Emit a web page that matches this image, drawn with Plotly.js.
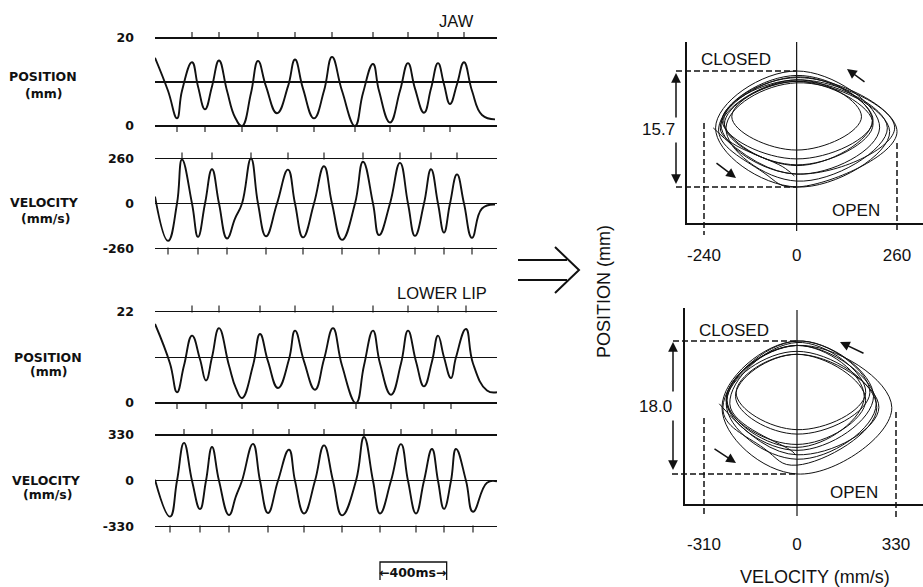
<!DOCTYPE html>
<html><head><meta charset="utf-8">
<script src="https://cdn.plot.ly/plotly-3.0.1.min.js"></script>
<style>html,body{margin:0;padding:0;background:#fff}#chart{width:923px;height:587px}</style>
</head><body><div id="chart"></div>
<script>
// ---------------- DATA ----------------
// time in ms, jaw signals
const jawTime = [0,78,132,162,222,258,300,342,384,432,480,522,576,618,666,732,798,840,888,954,1014,1062,1122,1200,1248,1308,1344,1410,1470,1518,1560,1614,1656,1698,1734,1770,1812,1854,1902,1962,2040];
const jawPos  = [15.5,8.0,1.75,8.0,14.5,9.0,3.8,9.0,14.9,8.0,2.0,0.0,7.5,14.8,9.0,2.9,9.0,15.1,8.5,1.75,8.0,15.7,8.0,0.0,7.5,14.1,8.0,0.8,8.0,14.3,8.5,3.0,8.5,14.3,9.5,5.0,9.5,14.5,8.0,2.5,1.5];
const jawVel  = [40,-216,0,254,0,-193,0,198,0,-202,-87,0,260,0,-189,0,196,0,-196,0,215,0,-210,0,241,0,-183,0,235,0,-187,0,198,0,-168,0,168,0,-198,-29,-6];
// lower lip signals
const lipTime = [0,90,132,174,222,270,306,342,384,444,486,522,588,630,678,738,804,840,894,960,1014,1068,1122,1206,1254,1308,1350,1416,1476,1518,1566,1614,1662,1698,1734,1776,1806,1866,1908,1992,2052];
const lipPos  = [19.0,9.5,2.6,9.0,16.2,10.5,5.4,11.0,18.0,9.0,3.5,1.2,9.0,16.6,10.0,3.6,10.5,17.4,10.0,3.2,10.5,18.0,9.0,0.0,9.0,17.4,9.5,2.0,9.5,17.4,10.0,4.0,10.0,16.2,11.0,6.0,11.0,17.8,9.5,3.0,2.6];
const lipVel  = [7,-259,0,273,0,-205,0,243,0,-247,-111,0,266,0,-233,0,224,0,-236,0,255,0,-250,0,316,0,-236,0,264,0,-236,0,229,0,-203,0,229,0,-224,-14,-5];

// tick values / labels
const jawPosTicks = [0, 10, 20],   jawPosText = ['0', '', '20'];
const jawVelTicks = [-260, 0, 260], jawVelText = ['-260', '0', '260'];
const lipPosTicks = [0, 11, 22],   lipPosText = ['0', '', '22'];
const lipVelTicks = [-330, 0, 330], lipVelText = ['-330', '0', '330'];
const jawPhaseTicks = [-240, 0, 260];
const lipPhaseTicks = [-310, 0, 330];
const jawRangeLabel = '15.7', lipRangeLabel = '18.0';
const scaleBarStart = 1350, scaleBarMs = 400;

// ---------------- LAYOUT HELPERS ----------------
const W = 923, H = 587;
const px = x => x / W, py = y => 1 - y / H;
const BLACK = '#111';
function band(vTop, pTop, vBot, pBot, pad) {
  const k = (vTop - vBot) / (pBot - pTop);
  return { k, range: [vBot - pad * k, vTop + pad * k], domain: [py(pBot + pad), py(pTop - pad)] };
}
function lin(v1, p1, v2, p2, pa, pb) {
  const s = (v2 - v1) / (p2 - p1);
  return [v1 + (pa - p1) * s, v1 + (pb - p1) * s];
}
const B1 = band(20, 38, 0, 126, 10);
const B2 = band(260, 158.5, -260, 248.5, 10);
const B3 = band(22, 311.5, 0, 403, 10);
const B4 = band(330, 435, -330, 526.5, 10);

const leftFont = { family: 'DejaVu Sans', size: 12.5, color: BLACK, weight: 'bold' };
function leftY(B, tv, tt) {
  return { domain: B.domain, range: B.range, anchor: 'x', tickvals: tv, ticktext: tt, ticks: '',
    showgrid: true, gridcolor: BLACK, gridwidth: 1.3, zeroline: false, showline: false,
    tickfont: leftFont, ticklabelstandoff: 20, fixedrange: true };
}
function ext(a, max) {
  const r = [];
  for (let i = 1; i < a.length - 1; i++) {
    if (max ? (a[i] > a[i - 1] && a[i] >= a[i + 1]) : (a[i] < a[i - 1] && a[i] <= a[i + 1])) r.push(i);
  }
  return r;
}
function tickTrace(time, arr, max, yaxis, yLine, k) {
  const ids = ext(arr, max);
  return { x: ids.map(i => time[i]), y: ids.map(() => yLine + (max ? 2.5 : -2.5) * k), mode: 'markers',
    xaxis: 'x', yaxis, cliponaxis: false, hoverinfo: 'skip',
    marker: { symbol: 'line-ns', size: 5, color: BLACK, line: { width: 1.1, color: BLACK } } };
}
const ts = (x, y, yaxis) => ({ x, y, xaxis: 'x', yaxis, mode: 'lines', hoverinfo: 'skip',
  line: { color: BLACK, width: 1.9, shape: 'spline', smoothing: 1.3 } });

// phase-plane axes
const jX = lin(-240, 704, 260, 897, 687, 923), jY = lin(0, 187, 15.7, 71, 223, 42);
const lX = lin(-310, 704, 330, 896, 685, 923), lY = lin(0, 474, 18, 341, 504, 308);
const jawPhVel = jawVel.slice(1), jawPhPos = jawPos.slice(1);
const lipPhVel = lipVel.slice(1), lipPhPos = lipPos.slice(1);
const jMax = Math.max(...jawPhPos), jMin = Math.min(...jawPhPos);
const lMax = Math.max(...lipPhPos), lMin = Math.min(...lipPhPos);
const rightFont = { family: 'Liberation Sans, Arial, sans-serif', size: 17, color: BLACK };
function phaseX(domPx, range, tv, standoff, anchor) {
  return { domain: [px(domPx[0]), px(domPx[1])], range, anchor, tickvals: tv, ticktext: tv.map(String),
    ticks: '', showgrid: false, zeroline: false, showline: true, linecolor: BLACK, linewidth: 1.6,
    tickfont: rightFont, ticklabelstandoff: standoff, fixedrange: true };
}
function phaseY(domPx, range, anchor) {
  return { domain: [py(domPx[1]), py(domPx[0])], range, anchor, showticklabels: false, ticks: '',
    showgrid: false, zeroline: false, showline: true, linecolor: BLACK, linewidth: 1.6, fixedrange: true };
}
const ph = (x, y, xa, ya) => ({ x, y, xaxis: xa, yaxis: ya, mode: 'lines', hoverinfo: 'skip',
  line: { color: BLACK, width: 1, shape: 'spline', smoothing: 1.3 } });
const zeroPaper = (r, d0, d1) => d0 + (0 - r[0]) / (r[1] - r[0]) * (d1 - d0);

const data = [
  ts(jawTime, jawPos, 'y'), ts(jawTime, jawVel, 'y2'), ts(lipTime, lipPos, 'y3'), ts(lipTime, lipVel, 'y4'),
  tickTrace(jawTime, jawPos, true, 'y', 20, B1.k), tickTrace(jawTime, jawPos, false, 'y', 0, B1.k),
  tickTrace(jawTime, jawVel, true, 'y2', 260, B2.k), tickTrace(jawTime, jawVel, false, 'y2', -260, B2.k),
  tickTrace(lipTime, lipPos, true, 'y3', 22, B3.k), tickTrace(lipTime, lipPos, false, 'y3', 0, B3.k),
  tickTrace(lipTime, lipVel, true, 'y4', 330, B4.k), tickTrace(lipTime, lipVel, false, 'y4', -330, B4.k),
  ph(jawPhVel, jawPhPos, 'x2', 'y5'), ph(lipPhVel, lipPhPos, 'x3', 'y6')
];

const dash = { color: BLACK, width: 1.5, dash: '6px,3px' };
const shapes = [
  { type: 'line', xref: 'x2', yref: 'paper', x0: 0, x1: 0, y0: py(42), y1: py(231), line: { color: BLACK, width: 1.2 } },
  { type: 'line', xref: 'x3', yref: 'paper', x0: 0, x1: 0, y0: py(310), y1: py(516), line: { color: BLACK, width: 1.2 } },
  { type: 'line', xref: 'paper', yref: 'y5', x0: px(676), x1: zeroPaper(jX, px(687), 1), y0: jMax, y1: jMax, line: dash },
  { type: 'line', xref: 'paper', yref: 'y5', x0: px(676), x1: zeroPaper(jX, px(687), 1), y0: jMin, y1: jMin, line: dash },
  { type: 'line', xref: 'paper', yref: 'y6', x0: px(673), x1: zeroPaper(lX, px(685), 1), y0: lMax, y1: lMax, line: dash },
  { type: 'line', xref: 'paper', yref: 'y6', x0: px(672), x1: zeroPaper(lX, px(685), 1), y0: lMin, y1: lMin, line: dash },
  { type: 'line', xref: 'x2', yref: 'paper', x0: jawPhaseTicks[0], x1: jawPhaseTicks[0], y0: py(123), y1: py(235), line: dash },
  { type: 'line', xref: 'x2', yref: 'paper', x0: jawPhaseTicks[2], x1: jawPhaseTicks[2], y0: py(143), y1: py(230), line: dash },
  { type: 'line', xref: 'x3', yref: 'paper', x0: lipPhaseTicks[0], x1: lipPhaseTicks[0], y0: py(418), y1: py(517), line: dash },
  { type: 'line', xref: 'x3', yref: 'paper', x0: lipPhaseTicks[2], x1: lipPhaseTicks[2], y0: py(412), y1: py(520), line: dash },
  { type: 'path', xref: 'paper', yref: 'paper', line: { color: BLACK, width: 2 },
    path: `M${px(518)},${py(260)} L${px(567)},${py(260)} M${px(518)},${py(280)} L${px(567)},${py(280)} M${px(555)},${py(247)} L${px(579)},${py(270)} L${px(555)},${py(293)}` },
  { type: 'path', xref: 'x', yref: 'paper', line: { color: BLACK, width: 1.3 },
    path: `M${scaleBarStart},${py(580)} L${scaleBarStart},${py(562)} L${scaleBarStart + scaleBarMs},${py(562)} L${scaleBarStart + scaleBarMs},${py(580)}` }
];

const t = (text, x, y, font, extra) => Object.assign({ text, x: px(x), y: py(y), xref: 'paper', yref: 'paper',
  xanchor: 'center', yanchor: 'middle', showarrow: false, font }, extra || {});
const bold = { family: 'DejaVu Sans', size: 12.5, color: BLACK, weight: 'bold' };
const title = { family: 'Liberation Sans, Arial, sans-serif', size: 16.5, color: BLACK };
const arr = (hx, hy, ax, ay) => ({ text: '', x: px(hx), y: py(hy), xref: 'paper', yref: 'paper', showarrow: true,
  ax, ay, axref: 'pixel', ayref: 'pixel', arrowhead: 2, arrowsize: 1.3, arrowwidth: 1.5, arrowcolor: BLACK, standoff: 0 });
const annotations = [
  t('POSITION', 43, 76, bold), t('(mm)', 43, 93, bold),
  t('VELOCITY', 44, 203, bold), t('(mm/s)', 45, 219, bold),
  t('POSITION', 48, 357, bold), t('(mm)', 48, 371, bold),
  t('VELOCITY', 46, 480, bold), t('(mm/s)', 47, 494, bold),
  t('JAW', 456, 21, title), t('LOWER LIP', 442, 293, title),
  Object.assign(t('←' + scaleBarMs + 'ms→', 0, 572, { family: 'DejaVu Sans', size: 12.5, color: BLACK, weight: 'bold' }),
    { xref: 'x', x: scaleBarStart + scaleBarMs / 2 }),
  t('POSITION (mm)', 604, 292, { family: 'Liberation Sans, Arial, sans-serif', size: 18, color: BLACK }, { textangle: -90 }),
  t('VELOCITY (mm/s)', 815, 577, { family: 'Liberation Sans, Arial, sans-serif', size: 18, color: BLACK }),
  t('CLOSED', 736, 60, rightFont), t('OPEN', 856, 210, rightFont),
  t('CLOSED', 734, 330, rightFont), t('OPEN', 854, 492, rightFont),
  t(jawRangeLabel, 658, 130, rightFont), t(lipRangeLabel, 655, 406, rightFont),
  arr(676, 73, 0, 46), arr(676, 184, 0, -43),
  arr(673, 342, 0, 51), arr(673, 470, 0, -51),
  arr(847, 69, 19, 14), arr(736, 178, -21, -16),
  arr(840, 342, 25, 12), arr(736, 463, -23, -15)
];

const layout = {
  width: W, height: H, margin: { l: 0, r: 0, t: 0, b: 0 }, showlegend: false,
  paper_bgcolor: '#fff', plot_bgcolor: 'rgba(0,0,0,0)',
  xaxis: { domain: [px(155), px(497)], range: [0, 2052], showticklabels: false, ticks: '', showgrid: false,
    zeroline: false, showline: false, anchor: 'y4', fixedrange: true },
  yaxis: leftY(B1, jawPosTicks, jawPosText),
  yaxis2: leftY(B2, jawVelTicks, jawVelText),
  yaxis3: leftY(B3, lipPosTicks, lipPosText),
  yaxis4: leftY(B4, lipVelTicks, lipVelText),
  xaxis2: phaseX([687, 923], jX, jawPhaseTicks, 16, 'y5'),
  yaxis5: phaseY([42, 223], jY, 'x2'),
  xaxis3: phaseX([685, 923], lX, lipPhaseTicks, 24, 'y6'),
  yaxis6: phaseY([308, 504], lY, 'x3'),
  shapes, annotations
};
Plotly.newPlot('chart', data, layout, { displayModeBar: false, staticPlot: true });
</script>
</body></html>
